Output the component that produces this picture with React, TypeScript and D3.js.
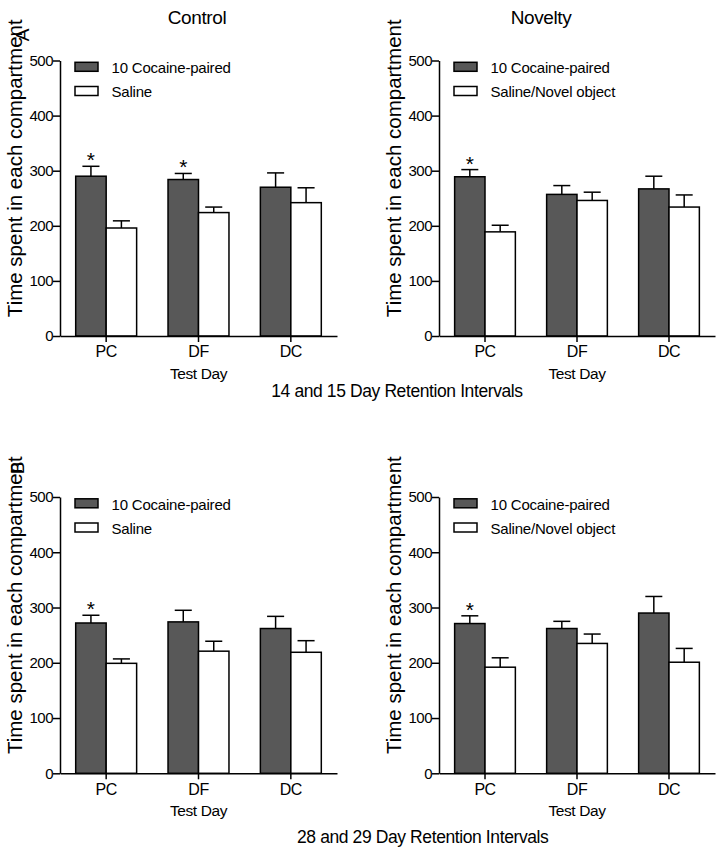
import React, { useEffect, useRef } from 'react';
import * as d3 from 'd3';

const categories = ['PC', 'DF', 'DC'];
const yTicks = [0, 100, 200, 300, 400, 500];
const cocaineLabel = '10 Cocaine-paired';
const salineLabel = 'Saline';
const novelLabel = 'Saline/Novel object';

// A: 14 and 15 day retention, control
const ctrl14Cocaine = [290, 284, 270];
const ctrl14CocaineSem = [18, 11, 26];
const ctrl14Saline = [196, 224, 242];
const ctrl14SalineSem = [13, 10, 27];
const ctrl14Stars = ['PC', 'DF'];

// A: 14 and 15 day retention, novelty
const nov14Cocaine = [289, 257, 267];
const nov14CocaineSem = [13, 16, 23];
const nov14Novel = [189, 246, 234];
const nov14NovelSem = [12, 15, 22];
const nov14Stars = ['PC'];

// B: 28 and 29 day retention, control
const ctrl28Cocaine = [272, 274, 262];
const ctrl28CocaineSem = [14, 21, 22];
const ctrl28Saline = [199, 221, 219];
const ctrl28SalineSem = [8, 18, 21];
const ctrl28Stars = ['PC'];

// B: 28 and 29 day retention, novelty
const nov28Cocaine = [271, 262, 290];
const nov28CocaineSem = [14, 13, 30];
const nov28Novel = [192, 235, 201];
const nov28NovelSem = [17, 17, 25];
const nov28Stars = ['PC'];

const config = {
    w: 723,
    h: 856,
    font: '"Liberation Sans", Arial, sans-serif',
    dark: '#585858'
};

// panel layout (pixel boxes of each plot area)
const panels = [
    { x0: 60, x1: 337, yTop: 60.5, yBot: 336, title: 'Control', titleX: 197, second: salineLabel,
      a: ctrl14Cocaine, aSem: ctrl14CocaineSem, b: ctrl14Saline, bSem: ctrl14SalineSem, stars: ctrl14Stars },
    { x0: 439, x1: 715, yTop: 60.5, yBot: 336, title: 'Novelty', titleX: 541, second: novelLabel,
      a: nov14Cocaine, aSem: nov14CocaineSem, b: nov14Novel, bSem: nov14NovelSem, stars: nov14Stars },
    { x0: 60, x1: 337, yTop: 497, yBot: 773.3, title: null, titleX: 0, second: salineLabel,
      a: ctrl28Cocaine, aSem: ctrl28CocaineSem, b: ctrl28Saline, bSem: ctrl28SalineSem, stars: ctrl28Stars },
    { x0: 439, x1: 715, yTop: 497, yBot: 773.3, title: null, titleX: 0, second: novelLabel,
      a: nov28Cocaine, aSem: nov28CocaineSem, b: nov28Novel, bSem: nov28NovelSem, stars: nov28Stars }
];

const App = () => {
    const svgRef = useRef<SVGSVGElement>(null);

    useEffect(() => {
        const svg = d3.select(svgRef.current)
            .attr('width', config.w)
            .attr('height', config.h)
            .style('font-family', config.font);
        svg.selectAll('*').remove();

        panels.forEach(p => {
            const g = svg.append('g');

            const x = d3.scaleBand()
                .domain(categories)
                .range([p.x0, p.x1])
                .paddingInner(0.34)
                .paddingOuter(0.17);
            const sub = d3.scaleBand()
                .domain(['a', 'b'])
                .range([0, x.bandwidth()]);
            const y = d3.scaleLinear()
                .domain([0, 500])
                .range([p.yBot, p.yTop]);

            const rows = categories.flatMap((c, i) => [
                { cat: c, key: 'a', v: p.a[i], sem: p.aSem[i], fill: config.dark },
                { cat: c, key: 'b', v: p.b[i], sem: p.bSem[i], fill: '#fff' }
            ]);
            const bw = sub.bandwidth();
            const cx = (d: any) => (x(d.cat) as number) + (sub(d.key) as number) + bw / 2;

            // error bars (upper only)
            g.selectAll('line.err')
                .data(rows)
                .join('line')
                .attr('class', 'err')
                .attr('x1', cx).attr('x2', cx)
                .attr('y1', d => y(d.v))
                .attr('y2', d => y(d.v + d.sem))
                .attr('stroke', '#000')
                .attr('stroke-width', 1.5);
            g.selectAll('line.cap')
                .data(rows)
                .join('line')
                .attr('class', 'cap')
                .attr('x1', d => cx(d) - bw * 0.28)
                .attr('x2', d => cx(d) + bw * 0.28)
                .attr('y1', d => y(d.v + d.sem))
                .attr('y2', d => y(d.v + d.sem))
                .attr('stroke', '#000')
                .attr('stroke-width', 1.5);

            g.selectAll('rect.bar')
                .data(rows)
                .join('rect')
                .attr('class', 'bar')
                .attr('x', d => (x(d.cat) as number) + (sub(d.key) as number))
                .attr('y', d => y(d.v))
                .attr('width', bw)
                .attr('height', d => y(0) - y(d.v))
                .attr('fill', d => d.fill)
                .attr('stroke', '#000')
                .attr('stroke-width', 1.5);

            // significance stars
            g.selectAll('text.star')
                .data(rows.filter(d => d.key === 'a' && p.stars.includes(d.cat)))
                .join('text')
                .attr('class', 'star')
                .attr('x', cx)
                .attr('y', d => y(d.v + d.sem) + 1)
                .attr('text-anchor', 'middle')
                .attr('font-size', 21)
                .text('*');

            // axes
            const yAxis = g.append('g')
                .attr('transform', `translate(${p.x0},0)`)
                .call(d3.axisLeft(y).tickValues(yTicks).tickSize(7).tickSizeOuter(0).tickPadding(0));
            const xAxis = g.append('g')
                .attr('transform', `translate(0,${p.yBot})`)
                .call(d3.axisBottom(x).tickSize(6).tickSizeOuter(0).tickPadding(4));
            [yAxis, xAxis].forEach(a => {
                a.selectAll('path,line').attr('stroke', '#000').attr('stroke-width', 1.5);
                a.selectAll('text').attr('fill', '#000').style('font-family', config.font);
            });
            yAxis.selectAll('text').attr('font-size', 15).attr('letter-spacing', -0.5);
            xAxis.selectAll('text').attr('font-size', 16).attr('letter-spacing', -0.5);

            g.append('text')
                .attr('x', (p.x0 + p.x1) / 2)
                .attr('y', p.yBot + 43)
                .attr('text-anchor', 'middle')
                .attr('font-size', 15.5)
                .attr('letter-spacing', -0.4)
                .text('Test Day');

            g.append('text')
                .attr('transform', `translate(${p.x0 - 38},${(p.yTop + p.yBot) / 2 - 30}) rotate(-90)`)
                .attr('text-anchor', 'middle')
                .attr('font-size', 20.5)
                .text('Time spent in each compartment');

            if (p.title) {
                g.append('text')
                    .attr('x', p.titleX)
                    .attr('y', 24)
                    .attr('text-anchor', 'middle')
                    .attr('font-size', 19)
                    .attr('letter-spacing', -0.4)
                    .text(p.title);
            }

            // legend
            [[cocaineLabel, config.dark], [p.second, '#fff']].forEach(([label, fill], i) => {
                g.append('rect')
                    .attr('x', p.x0 + 15)
                    .attr('y', p.yTop + 1.8 + i * 24.2)
                    .attr('width', 23)
                    .attr('height', 9)
                    .attr('fill', fill)
                    .attr('stroke', '#000')
                    .attr('stroke-width', 1.5);
                g.append('text')
                    .attr('x', p.x0 + 51.5)
                    .attr('y', p.yTop + 12.5 + i * 24.2)
                    .attr('font-size', 15)
                    .attr('letter-spacing', -0.2)
                    .text(label);
            });
        });

        // panel letters
        svg.append('text')
            .attr('transform', 'translate(29,35) rotate(-90)')
            .attr('text-anchor', 'middle')
            .attr('font-size', 19)
            .text('A');
        svg.append('text')
            .attr('transform', 'translate(24,468) rotate(-90)')
            .attr('text-anchor', 'middle')
            .attr('font-size', 19)
            .text('B');

        svg.append('text')
            .attr('x', 397)
            .attr('y', 397)
            .attr('text-anchor', 'middle')
            .attr('font-size', 17.5)
            .attr('letter-spacing', -0.4)
            .text('14 and 15 Day Retention Intervals');
        svg.append('text')
            .attr('x', 297)
            .attr('y', 843)
            .attr('font-size', 17.5)
            .attr('letter-spacing', -0.4)
            .text('28 and 29 Day Retention Intervals');
    }, []);

    return (
        <div style={{ position: 'absolute', left: 0, top: 0 }}>
            <svg ref={svgRef}></svg>
        </div>
    );
};

export default App;
